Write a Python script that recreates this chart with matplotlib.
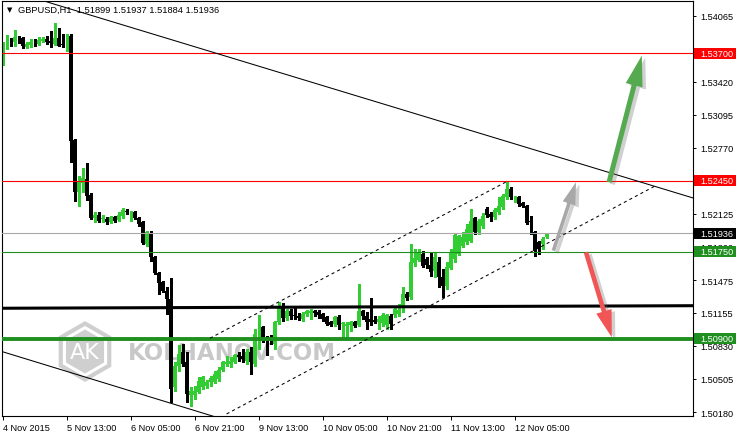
import matplotlib
matplotlib.use('Agg')
import matplotlib.pyplot as plt
import matplotlib.patheffects as pe
from matplotlib.patches import Rectangle, RegularPolygon, FancyArrowPatch, ArrowStyle
from matplotlib.transforms import IdentityTransform, blended_transform_factory

plt.rcParams['font.family'] = ['Liberation Sans', 'DejaVu Sans']

# GBPUSD H1 candles (bar 0 = 4 Nov 21:00)
opens = [1.53594, 1.53791, 1.53830, 1.53810, 1.53859, 1.53849, 1.53761, 1.53781, 1.53810, 1.53791,
         1.53820, 1.53840, 1.53820, 1.53791, 1.53849, 1.53786, 1.53771, 1.53869, 1.52849, 1.52339,
         1.52427, 1.52466, 1.52309, 1.52084, 1.52113, 1.52069, 1.52074, 1.52044, 1.52094, 1.52064,
         1.52103, 1.52152, 1.52137, 1.52142, 1.52084, 1.52044, 1.51829, 1.51936, 1.51701, 1.51544,
         1.51456, 1.51367, 1.51289, 1.50426, 1.50632, 1.50769, 1.50671, 1.50347, 1.50347, 1.50377,
         1.50426, 1.50436, 1.50475, 1.50475, 1.50504, 1.50593, 1.50651, 1.50651, 1.50671, 1.50740,
         1.50730, 1.50681, 1.50769, 1.50651, 1.50946, 1.51014, 1.50897, 1.50897, 1.50848, 1.51064,
         1.51201, 1.51103, 1.51171, 1.51132, 1.51122, 1.51093, 1.51142, 1.51152, 1.51171, 1.51161,
         1.51142, 1.51112, 1.51064, 1.51044, 1.51112, 1.51039, 1.51024, 1.51034, 1.51064, 1.51034,
         1.51171, 1.51122, 1.51093, 1.51083, 1.51064, 1.51054, 1.51034, 1.51122, 1.51132, 1.51142,
         1.51221, 1.51338, 1.51309, 1.51642, 1.51672, 1.51731, 1.51681, 1.51622, 1.51564, 1.51652,
         1.51505, 1.51417, 1.51593, 1.51681, 1.51731, 1.51809, 1.51848, 1.51858, 1.52084, 1.51946,
         1.52005, 1.52172, 1.52123, 1.52094, 1.52142, 1.52191, 1.52290, 1.52368, 1.52250, 1.52290,
         1.52231, 1.52201, 1.52044, 1.51946, 1.51848, 1.51829, 1.51899]
highs = [1.53810, 1.53879, 1.53849, 1.53928, 1.53869, 1.53859, 1.53810, 1.53840, 1.53840, 1.53859,
         1.53859, 1.53869, 1.53918, 1.53997, 1.53948, 1.53889, 1.53889, 1.53889, 1.52859, 1.52496,
         1.52574, 1.52623, 1.52329, 1.52142, 1.52142, 1.52113, 1.52094, 1.52103, 1.52103, 1.52142,
         1.52182, 1.52172, 1.52152, 1.52152, 1.52094, 1.52054, 1.51956, 1.51956, 1.51711, 1.51554,
         1.51466, 1.51407, 1.51495, 1.50671, 1.50838, 1.50848, 1.50769, 1.50426, 1.50436, 1.50524,
         1.50534, 1.50494, 1.50534, 1.50583, 1.50622, 1.50681, 1.50730, 1.50720, 1.50749, 1.50769,
         1.50799, 1.50799, 1.50818, 1.50995, 1.51132, 1.51024, 1.50926, 1.50936, 1.51073, 1.51260,
         1.51250, 1.51191, 1.51191, 1.51221, 1.51152, 1.51161, 1.51181, 1.51191, 1.51181, 1.51181,
         1.51152, 1.51122, 1.51073, 1.51122, 1.51132, 1.51064, 1.51064, 1.51073, 1.51073, 1.51436,
         1.51181, 1.51161, 1.51299, 1.51122, 1.51122, 1.51152, 1.51142, 1.51142, 1.51221, 1.51240,
         1.51407, 1.51358, 1.51829, 1.51780, 1.51780, 1.51760, 1.51701, 1.51750, 1.51750, 1.51701,
         1.51583, 1.51652, 1.51780, 1.51927, 1.51917, 1.51946, 1.52025, 1.52172, 1.52094, 1.52074,
         1.52133, 1.52192, 1.52142, 1.52182, 1.52290, 1.52319, 1.52447, 1.52388, 1.52299, 1.52299,
         1.52241, 1.52211, 1.52103, 1.51956, 1.51858, 1.51897, 1.51937]
lows = [1.53585, 1.53742, 1.53771, 1.53771, 1.53800, 1.53751, 1.53751, 1.53761, 1.53771, 1.53781,
        1.53810, 1.53791, 1.53761, 1.53781, 1.53766, 1.53761, 1.53722, 1.52633, 1.52250, 1.52201,
        1.52339, 1.52260, 1.52074, 1.52044, 1.52044, 1.52044, 1.52025, 1.52034, 1.52044, 1.52054,
        1.52084, 1.52123, 1.52054, 1.52074, 1.52005, 1.51829, 1.51809, 1.51662, 1.51534, 1.51338,
        1.51358, 1.51142, 1.50279, 1.50387, 1.50583, 1.50632, 1.50279, 1.50239, 1.50308, 1.50367,
        1.50406, 1.50416, 1.50436, 1.50465, 1.50485, 1.50583, 1.50632, 1.50622, 1.50661, 1.50681,
        1.50671, 1.50651, 1.50553, 1.50632, 1.50799, 1.50867, 1.50740, 1.50848, 1.50799, 1.51044,
        1.51073, 1.51083, 1.51093, 1.51093, 1.51083, 1.51073, 1.51122, 1.51093, 1.51122, 1.51103,
        1.51073, 1.51034, 1.51024, 1.51024, 1.50995, 1.50897, 1.50897, 1.50975, 1.51014, 1.51024,
        1.51093, 1.50995, 1.51034, 1.51054, 1.50995, 1.51024, 1.50995, 1.50995, 1.51112, 1.51122,
        1.51161, 1.51279, 1.51289, 1.51613, 1.51662, 1.51603, 1.51593, 1.51515, 1.51505, 1.51407,
        1.51309, 1.51387, 1.51583, 1.51652, 1.51721, 1.51799, 1.51829, 1.51848, 1.51927, 1.51927,
        1.51985, 1.52094, 1.52054, 1.52074, 1.52123, 1.52172, 1.52270, 1.52270, 1.52241, 1.52201,
        1.52191, 1.52025, 1.51927, 1.51711, 1.51731, 1.51780, 1.51884]
closes = [1.53791, 1.53830, 1.53820, 1.53859, 1.53849, 1.53771, 1.53791, 1.53810, 1.53791, 1.53830,
          1.53840, 1.53810, 1.53800, 1.53849, 1.53771, 1.53781, 1.53869, 1.52839, 1.52339, 1.52437,
          1.52476, 1.52299, 1.52084, 1.52113, 1.52054, 1.52074, 1.52044, 1.52094, 1.52054, 1.52113,
          1.52162, 1.52142, 1.52142, 1.52084, 1.52025, 1.51838, 1.51946, 1.51701, 1.51544, 1.51446,
          1.51367, 1.51289, 1.50406, 1.50632, 1.50749, 1.50651, 1.50357, 1.50387, 1.50387, 1.50485,
          1.50524, 1.50475, 1.50514, 1.50553, 1.50593, 1.50671, 1.50671, 1.50681, 1.50740, 1.50720,
          1.50700, 1.50769, 1.50671, 1.50946, 1.51014, 1.50877, 1.50877, 1.50887, 1.51064, 1.51217,
          1.51103, 1.51171, 1.51122, 1.51122, 1.51103, 1.51142, 1.51171, 1.51171, 1.51152, 1.51132,
          1.51093, 1.51044, 1.51034, 1.51112, 1.51034, 1.51044, 1.51044, 1.51064, 1.51024, 1.51171,
          1.51122, 1.51064, 1.51064, 1.51064, 1.51093, 1.51132, 1.51132, 1.51044, 1.51191, 1.51181,
          1.51338, 1.51299, 1.51652, 1.51691, 1.51750, 1.51613, 1.51622, 1.51554, 1.51701, 1.51505,
          1.51417, 1.51603, 1.51750, 1.51917, 1.51907, 1.51897, 1.51976, 1.52054, 1.51946, 1.52054,
          1.52103, 1.52113, 1.52094, 1.52162, 1.52201, 1.52299, 1.52368, 1.52290, 1.52290, 1.52221,
          1.52201, 1.52035, 1.52040, 1.51760, 1.51780, 1.51878, 1.51936]

# axis labels
x_tick_bars = [0, 16, 32, 48, 64, 80, 96, 112, 128]
x_tick_labels = ['4 Nov 2015', '5 Nov 13:00', '6 Nov 05:00', '6 Nov 21:00', '9 Nov 13:00',
                 '10 Nov 05:00', '10 Nov 21:00', '11 Nov 13:00', '12 Nov 05:00']
y_ticks = [1.54065, 1.53740, 1.53420, 1.53095, 1.52770, 1.52445, 1.52125,
           1.51800, 1.51475, 1.51155, 1.50830, 1.50505, 1.50180]

# horizontal levels
red_levels = [1.53700, 1.52450]
green_thin = 1.51750
green_thick = 1.50900
bid_price = 1.51936
black_level = ([-0.25, 172.5], [1.51198, 1.51223])

# trend lines (bar, price)
top_trend = ([11, 172.5], [1.54203, 1.52280])
low_trend = ([-0.25, 52.6], [1.50773, 1.50138])
chan_upper = ([51.75, 126], [1.50904, 1.52442])
chan_lower = ([55.9, 163], [1.50161, 1.52397])

# arrows: (tail, tip)
green_arrow = ((151.5, 1.52434), (159.7, 1.53676))
gray_arrow = ((137.6, 1.51763), (143.25, 1.52434))
red_arrow = ((145.75, 1.51747), (152.2, 1.50913))

# price tags on the right axis
tags = [(1.53700, '#ff0000'), (1.52450, '#ff0000'), (1.51936, '#000000'),
        (1.51750, '#1f8f1f'), (1.50900, '#1f8f1f')]

fig = plt.figure(figsize=(7.36, 4.35), dpi=100)
ax = fig.add_axes([2 / 736, 18 / 435, 691 / 736, 415 / 435])
ax.set_xlim(-0.25, 172.5)
ax.set_ylim(1.50141, 1.54212)

# watermark
ax.text((128 - 2) / 691, (417 - 354) / 415, 'KOLHANOV.COM', transform=ax.transAxes,
        fontsize=16.5, fontweight='bold', color='#c8c8c8', family='DejaVu Sans',
        ha='left', va='center', zorder=0.5)
ax.add_patch(RegularPolygon((85, 435 - 352.5), 6, radius=28, orientation=0,
                            transform=IdentityTransform(), fill=False,
                            edgecolor='#cfcfcf', linewidth=3, zorder=0.5))
ax.add_patch(RegularPolygon((85, 435 - 352.5), 6, radius=22, orientation=0,
                            transform=IdentityTransform(), facecolor='#cfcfcf',
                            edgecolor='none', zorder=0.5))
ax.text(83 / 691, (417 - 353) / 415, 'AK', transform=ax.transAxes,
        fontsize=16, color='white', family='DejaVu Sans', ha='center', va='center', zorder=0.6)

# candles
for i in range(len(opens)):
    o, h, l, c = opens[i], highs[i], lows[i], closes[i]
    color = '#32cd32' if c >= o else 'black'
    ax.vlines(i, l, h, color=color, linewidth=0.75, antialiased=False, zorder=2)
    body = max(abs(c - o), 0.0001)
    ax.add_patch(Rectangle((i - 0.375, min(o, c)), 0.75, body, antialiased=False,
                           facecolor=color, edgecolor='none', zorder=2))

# horizontal levels
for p in red_levels:
    ax.axhline(p, color='#ff0000', linewidth=0.8, zorder=3)
ax.axhline(bid_price, color='#a8a8a8', linewidth=0.8, zorder=3)
ax.axhline(green_thin, color='#1f8f1f', linewidth=0.8, zorder=3)
ax.axhline(green_thick, color='#1f8f1f', linewidth=2.8, zorder=3)
ax.plot(black_level[0], black_level[1], color='black', linewidth=2.2, zorder=3)

# trend lines and channel
ax.plot(top_trend[0], top_trend[1], color='black', linewidth=0.75, zorder=3)
ax.plot(low_trend[0], low_trend[1], color='black', linewidth=0.75, zorder=3)
ax.plot(chan_upper[0], chan_upper[1], color='black', linewidth=0.75,
        linestyle=(0, (3, 3)), zorder=3)
ax.plot(chan_lower[0], chan_lower[1], color='black', linewidth=0.75,
        linestyle=(0, (3, 3)), zorder=3)

# arrows with soft shadow
arrow_specs = [(green_arrow, '#55aa50', 0.36, 1.25, 2.2),
               (gray_arrow, '#a8a8a8', 0.26, 0.95, 1.6),
               (red_arrow, '#f25555', 0.33, 1.15, 1.95)]
for (tail, tip), col, tw, hw, hl in arrow_specs:
    arr = FancyArrowPatch(tail, tip, mutation_scale=10, shrinkA=0, shrinkB=0,
                          arrowstyle=ArrowStyle.Simple(head_length=hl, head_width=hw, tail_width=tw),
                          facecolor=col, edgecolor='none', zorder=6)
    arr.set_path_effects([pe.SimplePatchShadow(offset=(2.5, -1.5), shadow_rgbFace='#666666', alpha=0.3),
                          pe.Normal()])
    ax.add_patch(arr)

# axes styling
for s in ax.spines.values():
    s.set_color('black')
    s.set_linewidth(0.8)
ax.yaxis.tick_right()
ax.set_yticks(y_ticks)
ax.set_yticklabels([f'{v:.5f}' for v in y_ticks])
ax.tick_params(axis='y', direction='out', length=2.5, width=0.7, pad=3, labelsize=6.6, colors='black')
ax.set_xticks(x_tick_bars)
ax.set_xticklabels(x_tick_labels)
for lab in ax.get_xticklabels():
    lab.set_horizontalalignment('left')
ax.tick_params(axis='x', direction='out', length=3, width=0.7, pad=2, labelsize=6.6, colors='black')

# price tags (they sit over the axis labels, as on the terminal)
tr = blended_transform_factory(ax.transAxes, ax.transData)
half = 5.5 * (1.54212 - 1.50141) / 415
for p, col in tags:
    ax.add_patch(Rectangle((1 + 1 / 691, p - half), 43 / 691, 2 * half, transform=tr,
                           facecolor=col, edgecolor='none', clip_on=False, zorder=5))
    ax.text(1 + 7 / 691, p, f'{p:.5f}', transform=tr, color='white', fontsize=6.6,
            ha='left', va='center', clip_on=False, zorder=6)

# header
fig.text(7 / 736, 1 - 10.5 / 435, '\u25bc', fontsize=5, family='DejaVu Sans', va='center', ha='left')
fig.text(18 / 736, 1 - 10.5 / 435, 'GBPUSD,H1  1.51899 1.51937 1.51884 1.51936',
         fontsize=6.7, va='center', ha='left', color='black')

fig.savefig('out.png', dpi=100, facecolor='white')
